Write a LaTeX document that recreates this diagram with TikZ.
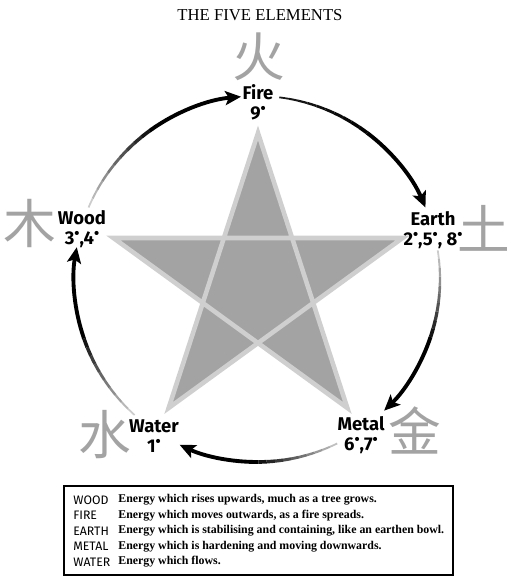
\documentclass[tikz,border=0pt]{standalone}
\usepackage{fontspec}
\usepackage{graphicx}
\usetikzlibrary{arrows.meta,calc}
\setmainfont{Liberation Serif}
\newfontfamily\lblfont{Fira Sans}
\newfontfamily\cjk{Noto Sans CJK SC}
\definecolor{inkgray}{HTML}{A3A3A3}
\definecolor{rimgray}{HTML}{CFCFCF}
\newcommand{\dg}{\raisebox{.3em}{\scalebox{.8}{•}}}

\begin{document}
\begin{tikzpicture}[x=0.02cm,y=0.02cm,>={Stealth[length=9pt,width=8pt,inset=2pt]},
  elem/.style={font=\lblfont\bfseries\fontsize{10.5}{11.5}\selectfont,align=center,inner sep=0pt},
  glyph/.style={font=\cjk\fontsize{30}{30}\selectfont,text=inkgray,inner sep=0pt},
  key/.style={anchor=west,inner sep=0pt,font=\lblfont\fontsize{7}{7}\selectfont},
  desc/.style={anchor=west,inner sep=0pt,font=\bfseries\fontsize{6.75}{7}\selectfont}]
\useasboundingbox (0,0) rectangle (511,576);
\node[font=\fontsize{9.5}{9.5}\selectfont] (title) at (260,561) {THE FIVE ELEMENTS};

% star
\coordinate (S) at (258,291);
\draw[fill=inkgray,draw=rimgray,line width=2.6pt]
  ($(S)+(90:152)$) -- ($(S)+(234:152)$) -- ($(S)+(18:152)$)
  -- ($(S)+(162:152)$) -- ($(S)+(306:152)$) -- cycle;

% elements
\node[elem] (fire) at (258,474) {Fire\\9\dg};
\node[elem] (earth) at (433,346) {Earth\\2\dg,5\dg, 8\dg};
\node[elem] (metal) at (361,141) {Metal\\6\dg,7\dg};
\node[elem] (water) at (154,140) {Water\\1\dg};
\node[elem] (wood) at (82,347) {Wood\\3\dg,4\dg};
\node[glyph] (huo) at (259,519) {火};
\node[glyph] (tu) at (484,348) {土};
\node[glyph] (jin) at (415,146) {金};
\node[glyph] (shui) at (105,141) {水};
\node[glyph] (mu) at (30,353) {木};

% cycle arrows, grey tail fading into black
\coordinate (C) at (257,297);
\foreach \a/\b/\g [count=\i] in {157/95/20, 83/23/90, 9/-46/20, -64/-115/25, 228/170/20}{
  \pgfmathsetmacro{\m}{\a+0.5*(\b-\a)}
  \coordinate (from\i) at ($(C)+(\a:183)$);
  \foreach \k in {0,...,9}{
    \pgfmathsetmacro{\p}{\a+(\m-\a)*\k/10}
    \pgfmathsetmacro{\q}{\a+(\m-\a)*(\k+1)/10}
    \pgfmathsetmacro{\s}{\g+(100-\g)*\k/10}
    \pgfmathsetmacro{\w}{1+1.2*\k/10}
    \draw[line width=\w pt,black!\s] ($(C)+(\p:183)$) arc[start angle=\p,end angle=\q,radius=183];
  }
  \draw[line width=2.2pt,->] ($(C)+(\m:183)$) arc[start angle=\m,end angle=\b,radius=183];
}

% key
\draw[line width=0.9pt] (64,1) rectangle (453,90);
\draw[line width=1.5pt] (64,90) -- (453,90);
\node[key] (kwood) at (73,76) {WOOD};
\node[key] (kfire) at (73,60.5) {FIRE};
\node[key] (kearth) at (73,45) {EARTH};
\node[key] (kmetal) at (73,29.5) {METAL};
\node[key] (kwater) at (73,14) {WATER};
\node[desc] (dwood) at (118,76) {Energy which rises upwards, much as a tree grows.};
\node[desc] (dfire) at (118,60.5) {Energy which moves outwards, as a fire spreads.};
\node[desc] (dearth) at (118,45) {Energy which is stabilising and containing, like an earthen bowl.};
\node[desc] (dmetal) at (118,29.5) {Energy which is hardening and moving downwards.};
\node[desc] (dwater) at (118,14) {Energy which flows.};
\end{tikzpicture}
\end{document}
